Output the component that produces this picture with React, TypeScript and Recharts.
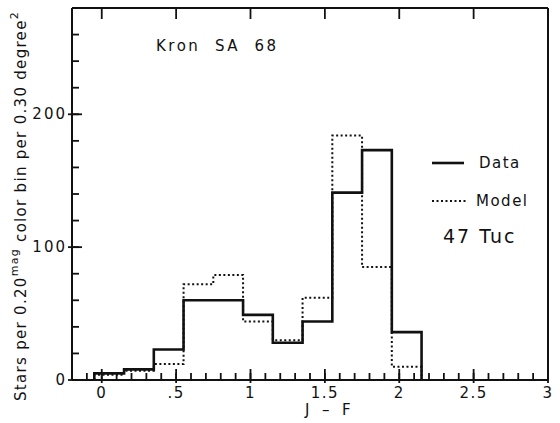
import { ComposedChart, Line, ReferenceLine, XAxis, YAxis } from "recharts";

// bin edges in J-F (0.20 mag bins) and counts per bin
const binEdges = [-0.05, 0.15, 0.35, 0.55, 0.75, 0.95, 1.15, 1.35, 1.55, 1.75, 1.95, 2.15];
const dataCounts = [5, 8, 23, 60, 60, 49, 28, 44, 141, 173, 36];
const modelCounts = [4, 7, 12, 72, 79, 44, 30, 62, 184, 85, 10];

const xMajorTicks = [0, 0.5, 1, 1.5, 2, 2.5, 3];
const xTickLabels = ["0", ".5", "1", "1.5", "2", "2.5", "3"];
const yMajorTicks = [0, 100, 200];
const yTickLabels = ["0", "100", "200"];

const xMinorTicks = Array.from({ length: 32 }, (_, i) => (i - 1) / 10);
const yMinorTicks = Array.from({ length: 15 }, (_, i) => i * 20);

const X_DOMAIN = [-0.2, 3];
const Y_DOMAIN = [0, 280];

const series = [
  { key: "model", name: "Model", width: 2, dash: "2 2.5" },
  { key: "data", name: "Data", width: 2.6, dash: undefined },
];

const rows = [
  { x: binEdges[0], data: 0, model: 0 },
  ...dataCounts.map((d, i) => ({ x: binEdges[i], data: d, model: modelCounts[i] })),
  { x: binEdges[binEdges.length - 1], data: 0, model: 0 },
];

const W = 560;
const H = 423;
const PLOT_LEFT = 72;
const PLOT_RIGHT = 548;
const PLOT_TOP = 8;
const PLOT_BOTTOM = 380;
const FONT = "'DejaVu Sans', sans-serif";
const INK = "#111";

const XU = (X_DOMAIN[1] - X_DOMAIN[0]) / (PLOT_RIGHT - PLOT_LEFT);
const YU = (Y_DOMAIN[1] - Y_DOMAIN[0]) / (PLOT_BOTTOM - PLOT_TOP);

const majorIndex = (list: number[], v: number) => list.findIndex((m) => Math.abs(m - v) < 1e-6);

// longer marks at the labelled ticks
const majorSegments = [
  ...xMajorTicks.map((v) => [{ x: v, y: Y_DOMAIN[0] - 3 * YU }, { x: v, y: Y_DOMAIN[0] + 11 * YU }]),
  ...xMajorTicks.map((v) => [{ x: v, y: Y_DOMAIN[1] }, { x: v, y: Y_DOMAIN[1] - 11 * YU }]),
  ...yMajorTicks.map((v) => [{ x: X_DOMAIN[0] - 4 * XU, y: v }, { x: X_DOMAIN[0] + 10 * XU, y: v }]),
];

const BottomLabel = (props: any) => {
  const { x, payload } = props;
  const idx = majorIndex(xMajorTicks, payload.value);
  if (idx < 0) return <g />;
  return (
    <text x={x} y={PLOT_BOTTOM + 13} textAnchor="middle" dominantBaseline="central" fontFamily={FONT} fontSize={15} letterSpacing={1.5} fill={INK}>
      {xTickLabels[idx]}
    </text>
  );
};

const LeftLabel = (props: any) => {
  const { y, payload } = props;
  const idx = majorIndex(yMajorTicks, payload.value);
  if (idx < 0) return <g />;
  return (
    <text x={PLOT_LEFT - 5} y={y} textAnchor="end" dominantBaseline="central" fontFamily={FONT} fontSize={15} letterSpacing={2} fill={INK}>
      {yTickLabels[idx]}
    </text>
  );
};

const YTitle = () => (
  <text
    x={21}
    y={206}
    transform="rotate(-90, 21, 206)"
    textAnchor="middle"
    dominantBaseline="central"
    fontFamily={FONT}
    fontSize={15}
    letterSpacing={1.3}
    fill={INK}
  >
    Stars per 0.20
    <tspan dy={-7} fontSize={11}>mag</tspan>
    <tspan dy={7}> color bin per 0.30 degree</tspan>
    <tspan dy={-7} fontSize={11}>2</tspan>
  </text>
);

const frame = { stroke: INK, strokeWidth: 2 };
const tickMark = { stroke: INK, strokeWidth: 1.8 };

export default function App() {
  return (
    <div style={{ position: "absolute", left: 0, top: 0, width: W, height: H, background: "#fff", fontFamily: FONT, color: INK }}>
      <ComposedChart width={W} height={H} data={rows} margin={{ top: 0, right: 0, bottom: 0, left: 0 }}>
        <XAxis dataKey="x" type="number" domain={X_DOMAIN} ticks={xMinorTicks} interval={0} tick={<BottomLabel />} tickLine={tickMark} tickSize={-7} axisLine={frame} height={H - PLOT_BOTTOM} allowDataOverflow />
        <XAxis xAxisId="top" dataKey="x" orientation="top" type="number" domain={X_DOMAIN} ticks={xMinorTicks} interval={0} tick={false} tickLine={tickMark} tickSize={-7} axisLine={frame} height={PLOT_TOP} allowDataOverflow />
        <YAxis type="number" domain={Y_DOMAIN} ticks={yMinorTicks} interval={0} tick={<LeftLabel />} tickLine={tickMark} tickSize={-7} axisLine={frame} width={PLOT_LEFT} label={{ content: () => <YTitle /> }} allowDataOverflow />
        <YAxis yAxisId="right" orientation="right" type="number" domain={Y_DOMAIN} ticks={yMinorTicks} interval={0} tick={false} tickLine={tickMark} tickSize={-7} axisLine={frame} width={W - PLOT_RIGHT} allowDataOverflow />
        {majorSegments.map((seg, i) => (
          <ReferenceLine key={`m${i}`} segment={seg} stroke={INK} strokeWidth={1.8} ifOverflow="visible" />
        ))}
        {series.map((s) => (
          <Line
            key={s.key}
            dataKey={s.key}
            name={s.name}
            type="stepAfter"
            stroke={INK}
            strokeWidth={s.width}
            strokeDasharray={s.dash}
            dot={false}
            activeDot={false}
            isAnimationActive={false}
          />
        ))}
      </ComposedChart>

      <div style={{ position: "absolute", left: 156, top: 37, fontSize: 15, letterSpacing: 2.5, whiteSpace: "pre" }}>Kron  SA  68</div>
      <div style={{ position: "absolute", left: 443, top: 225, fontSize: 19, letterSpacing: 2 }}>47 Tuc</div>
      <div style={{ position: "absolute", left: 305, top: 401, fontSize: 15, letterSpacing: 1, whiteSpace: "pre" }}>J  –  F</div>

      {[...series].reverse().map((s, i) => (
        <div key={s.key} style={{ position: "absolute", left: 432, top: 153 + i * 38, display: "flex", alignItems: "center", height: 20 }}>
          <svg width={36} height={6}>
            <line x1={0} x2={s.dash ? 36 : 32} y1={3} y2={3} stroke={INK} strokeWidth={s.width} strokeDasharray={s.dash} />
          </svg>
          <span style={{ marginLeft: s.dash ? 8 : 11, fontSize: 15, letterSpacing: 1.5 }}>{s.name}</span>
        </div>
      ))}
    </div>
  );
}
